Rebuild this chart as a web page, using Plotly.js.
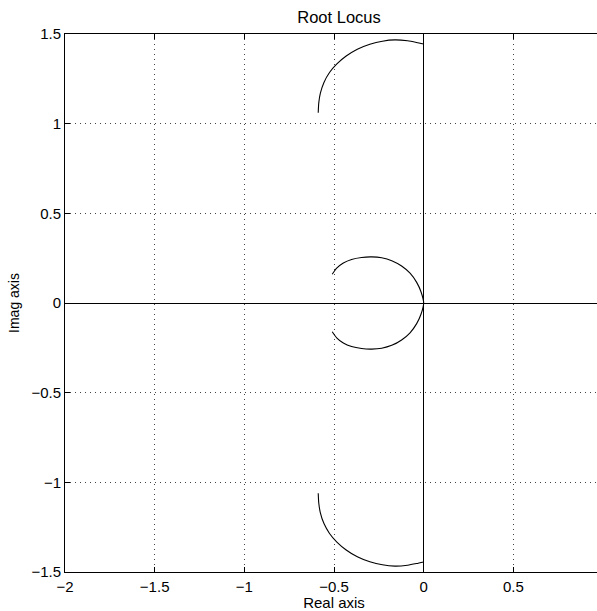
<!DOCTYPE html>
<html>
<head>
<meta charset="utf-8">
<script src="https://cdn.plot.ly/plotly-3.0.1.min.js"></script>
<style>
html,body{margin:0;padding:0;overflow:hidden;background:#fff;}
#chart{width:610px;height:611px;}
</style>
</head>
<body>
<div id="chart"></div>
<script>
// Upper branch
var upperX = [-0.588, -0.585, -0.576, -0.556, -0.525, -0.484, -0.432, -0.370, -0.300, -0.230, -0.160, -0.090, -0.040, 0.000];
var upperY = [1.061, 1.115, 1.170, 1.230, 1.285, 1.333, 1.377, 1.415, 1.443, 1.460, 1.467, 1.462, 1.453, 1.444];
// Lower branch
var lowerX = [-0.588, -0.585, -0.576, -0.556, -0.525, -0.484, -0.432, -0.370, -0.300, -0.230, -0.160, -0.090, -0.040, 0.000];
var lowerY = [-1.061, -1.115, -1.170, -1.230, -1.285, -1.333, -1.377, -1.415, -1.443, -1.460, -1.467, -1.462, -1.453, -1.444];
// Middle loop (upper start -> origin -> lower start)
var midX = [-0.510, -0.485, -0.448, -0.402, -0.346, -0.290, -0.234, -0.178, -0.123, -0.076, -0.039, -0.015, 0.000,
            -0.015, -0.039, -0.076, -0.123, -0.178, -0.234, -0.290, -0.346, -0.402, -0.448, -0.485, -0.510];
var midY = [0.160, 0.194, 0.223, 0.243, 0.254, 0.257, 0.252, 0.236, 0.206, 0.166, 0.115, 0.063, 0.000,
            -0.063, -0.115, -0.166, -0.206, -0.236, -0.252, -0.257, -0.254, -0.243, -0.223, -0.194, -0.160];

var xTicks = [-2, -1.5, -1, -0.5, 0, 0.5];
var xTickText = ['\u22122', '\u22121.5', '\u22121', '\u22120.5', '0', '0.5'];
var yTicks = [-1.5, -1, -0.5, 0, 0.5, 1, 1.5];
var yTickText = ['\u22121.5', '\u22121', '\u22120.5', '0', '0.5', '1', '1.5'];

var lineStyle = {color: '#000', width: 1.1, shape: 'spline', smoothing: 0.6};
var traces = [
  {x: upperX, y: upperY, mode: 'lines', line: lineStyle, hoverinfo: 'skip'},
  {x: midX, y: midY, mode: 'lines', line: lineStyle, hoverinfo: 'skip'},
  {x: lowerX, y: lowerY, mode: 'lines', line: lineStyle, hoverinfo: 'skip'}
];

var fontFam = '"Liberation Sans", Arial, Helvetica, sans-serif';
var axisCommon = {
  showline: true, linecolor: '#000', linewidth: 1, mirror: 'ticks',
  ticks: 'inside', ticklen: 5, tickcolor: '#000', tickwidth: 1,
  showgrid: true, gridcolor: '#444', gridwidth: 1, griddash: '1px,4px',
  zeroline: true, zerolinecolor: '#000', zerolinewidth: 1,
  tickfont: {family: fontFam, size: 15, color: '#000'},
  fixedrange: true
};

var layout = {
  width: 610, height: 611,
  margin: {l: 65, r: 7, t: 34, b: 39},
  paper_bgcolor: '#fff', plot_bgcolor: '#fff',
  showlegend: false,
  title: {text: 'Root Locus', font: {family: fontFam, size: 16.5, color: '#000'},
          xref: 'container', x: 339/610, xanchor: 'center',
          yref: 'container', y: 1 - 17.5/611, yanchor: 'middle'},
  xaxis: Object.assign({}, axisCommon, {
    range: [-2, 1], tickmode: 'array', tickvals: xTicks, ticktext: xTickText,
    ticklabelstandoff: 1,
    title: {text: 'Real axis', font: {family: fontFam, size: 15, color: '#000'}, standoff: 1}
  }),
  yaxis: Object.assign({}, axisCommon, {
    range: [-1.5, 1.5], tickmode: 'array', tickvals: yTicks, ticktext: yTickText,
    title: {text: 'Imag axis', font: {family: fontFam, size: 14, color: '#000'}, standoff: 8}
  })
};

Plotly.newPlot('chart', traces, layout, {displayModeBar: false, staticPlot: true});
</script>
</body>
</html>
